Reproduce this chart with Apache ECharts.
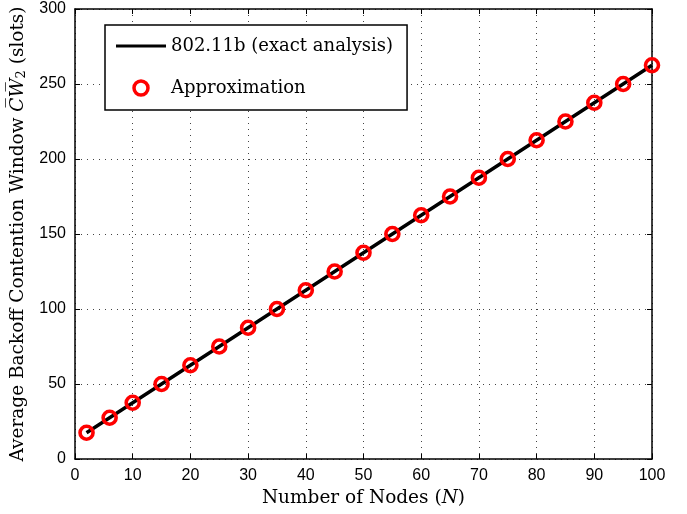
<!DOCTYPE html>
<html>
<head>
<meta charset="utf-8">
<script src="https://cdn.jsdelivr.net/npm/echarts@6/dist/echarts.min.js"></script>
<style>html,body{margin:0;padding:0;background:#fff}#c{width:687px;height:514px}</style>
</head>
<body>
<div id="c"></div>
<script>
var nodes = [2, 6, 10, 15, 20, 25, 30, 35, 40, 45, 50, 55, 60, 65, 70, 75, 80, 85, 90, 95, 100];
var exactCW = [17.5, 27.5, 37.5, 50, 62.5, 75, 87.5, 100, 112.5, 125, 137.5, 150, 162.5, 175, 187.5, 200, 212.5, 225, 237.5, 250, 262.5];
var approxCW = [17.5, 27.5, 37.5, 50, 62.5, 75, 87.5, 100, 112.5, 125, 137.5, 150, 162.5, 175, 187.5, 200, 212.5, 225, 237.5, 250, 262.5];
var seriesNames = ['802.11b (exact analysis)', 'Approximation'];

var chart = echarts.init(document.getElementById('c'), null, {renderer: 'canvas'});
var serif = 'DejaVu Serif';
var sans = 'Liberation Sans';
var tickFont = {fontFamily: sans, fontSize: 16, color: '#000'};
var split = {show: true, lineStyle: {type: [1, 5], color: '#444', width: 1}};
function pairs(xs, ys) { return xs.map(function (x, i) { return [x, ys[i]]; }); }

chart.setOption({
  animation: false,
  backgroundColor: '#fff',
  grid: {left: 75, right: 35, top: 9, bottom: 55, show: false, containLabel: false, outerBoundsMode: 'none'},
  legend: {
    orient: 'vertical',
    left: 105, top: 25,
    padding: [12, 14, 13, 11],
    borderColor: '#000', borderWidth: 1.5, backgroundColor: '#fff',
    itemWidth: 50, itemHeight: 14, itemGap: 24,
    textStyle: {fontFamily: serif, fontSize: 18, color: '#000'},
    data: [
      {name: seriesNames[0], icon: 'path://M0,0L0,0.01M0,5.5L50,5.5L50,8.5L0,8.5ZM50,14L50,13.99', itemStyle: {color: '#000', borderWidth: 0}},
      {name: seriesNames[1], icon: 'circle', itemStyle: {color: 'rgba(0,0,0,0)', borderColor: '#ff0000', borderWidth: 3.5}}
    ]
  },
  xAxis: [{
    type: 'value', min: 0, max: 100, interval: 10, position: 'bottom',
    name: 'Number of Nodes ({i|N})', nameLocation: 'middle', nameGap: 30,
    nameTextStyle: {fontFamily: serif, fontSize: 18.5, color: '#000',
      rich: {i: {fontFamily: serif, fontStyle: 'italic', fontSize: 18.5, color: '#000'}}},
    axisLine: {show: true, onZero: false, lineStyle: {color: '#000', width: 1.5}},
    axisTick: {show: true, inside: true, length: 5, lineStyle: {color: '#000'}},
    axisLabel: Object.assign({margin: 9}, tickFont),
    splitLine: split
  }, {
    type: 'value', min: 0, max: 100, interval: 10, position: 'top',
    axisLine: {show: true, onZero: false, lineStyle: {color: '#000', width: 1.5}},
    axisTick: {show: true, inside: true, length: 5, lineStyle: {color: '#000'}},
    axisLabel: {show: false}, splitLine: {show: false}
  }],
  yAxis: [{
    type: 'value', min: 0, max: 300, interval: 50, position: 'left',
    name: 'Average Backoff Contention Window {i|C\u0305W\u0305}{s|2} (slots)',
    nameLocation: 'middle', nameGap: 43, nameRotate: 90,
    nameTextStyle: {fontFamily: serif, fontSize: 18.5, color: '#000',
      rich: {
        i: {fontFamily: serif, fontStyle: 'italic', fontSize: 18.5, color: '#000'},
        s: {fontFamily: serif, fontSize: 13, color: '#000', verticalAlign: 'bottom', padding: [8, 0, 0, 0]}
      }},
    axisLine: {show: true, onZero: false, lineStyle: {color: '#000', width: 1.5}},
    axisTick: {show: true, inside: true, length: 5, lineStyle: {color: '#000'}},
    axisLabel: Object.assign({margin: 9}, tickFont),
    splitLine: split
  }, {
    type: 'value', min: 0, max: 300, interval: 50, position: 'right',
    axisLine: {show: true, onZero: false, lineStyle: {color: '#000', width: 1.5}},
    axisTick: {show: true, inside: true, length: 5, lineStyle: {color: '#000'}},
    axisLabel: {show: false}, splitLine: {show: false}
  }],
  series: [{
    name: seriesNames[0], type: 'line', xAxisIndex: 0, yAxisIndex: 0,
    data: pairs(nodes, exactCW), showSymbol: false, symbol: 'none',
    lineStyle: {color: '#000', width: 3.5}, itemStyle: {color: '#000'}, z: 2
  }, {
    name: seriesNames[1], type: 'scatter', xAxisIndex: 0, yAxisIndex: 0,
    data: pairs(nodes, approxCW), symbol: 'circle', symbolSize: 13,
    itemStyle: {color: 'rgba(0,0,0,0)', borderColor: '#ff0000', borderWidth: 3.6, opacity: 1}, z: 3
  }]
});
</script>
</body>
</html>
